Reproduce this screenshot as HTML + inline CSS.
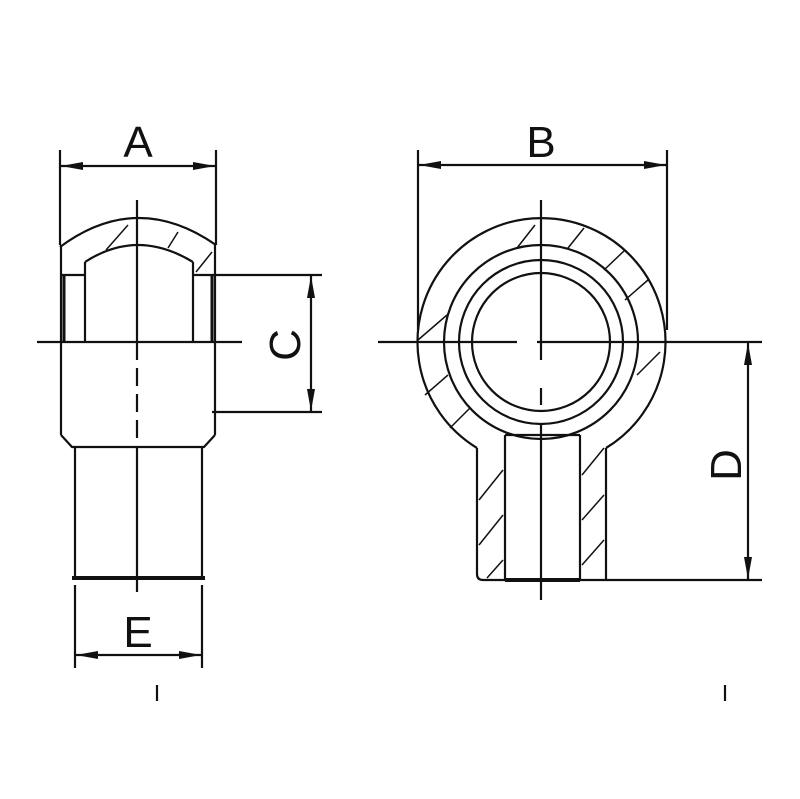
<!DOCTYPE html>
<html><head><style>body{margin:0;background:#fff}svg{display:block}</style></head><body>
<svg width="800" height="799" viewBox="0 0 800 799" xmlns="http://www.w3.org/2000/svg">
<defs>
<marker id="ar" markerWidth="22" markerHeight="10" refX="22" refY="5" orient="auto" markerUnits="userSpaceOnUse"><path d="M0,1 L22,5 L0,9 Z" fill="#111"/></marker>
</defs>
<g stroke="#111" stroke-width="2.2" fill="none">
<!-- Left view -->
<line x1="60" y1="150" x2="60" y2="245"/><line x1="216" y1="150" x2="216" y2="245"/>
<line x1="137" y1="166" x2="61" y2="166" marker-end="url(#ar)"/><line x1="137" y1="166" x2="215" y2="166" marker-end="url(#ar)"/>
<path d="M60,247 Q137,190 216,245"/>
<path d="M85,262 Q137,228 193,262"/>
<line x1="106" y1="250" x2="128" y2="225" stroke-width="1.5"/><line x1="168" y1="248" x2="178" y2="232" stroke-width="1.5"/><line x1="196" y1="272" x2="212" y2="252" stroke-width="1.5"/>
<line x1="61" y1="245" x2="61" y2="435"/><line x1="215" y1="245" x2="215" y2="435"/>
<line x1="64" y1="275" x2="64" y2="342" stroke-width="3"/><line x1="212" y1="275" x2="212" y2="342" stroke-width="3"/>
<line x1="85" y1="262" x2="85" y2="342"/><line x1="193" y1="262" x2="193" y2="342"/>
<line x1="62" y1="275" x2="85" y2="275"/><line x1="193" y1="275" x2="322" y2="275"/>
<line x1="37" y1="342" x2="242" y2="342"/>
<path d="M61,435 L72,447 L204,447 L215,435"/>
<line x1="75" y1="447" x2="75" y2="578"/><line x1="202" y1="447" x2="202" y2="578"/>
<line x1="72" y1="578" x2="205" y2="578" stroke-width="4"/>
<line x1="137" y1="200" x2="137" y2="342"/>
<line x1="137" y1="342" x2="137" y2="440" stroke-dasharray="18,8"/>
<line x1="137" y1="448" x2="137" y2="592"/>
<line x1="212" y1="412" x2="322" y2="412"/>
<line x1="311" y1="343" x2="311" y2="276" marker-end="url(#ar)"/><line x1="311" y1="343" x2="311" y2="411" marker-end="url(#ar)"/>
<line x1="75" y1="585" x2="75" y2="668"/><line x1="202" y1="585" x2="202" y2="668"/>
<line x1="138" y1="655" x2="76" y2="655" marker-end="url(#ar)"/><line x1="138" y1="655" x2="201" y2="655" marker-end="url(#ar)"/>
<line x1="157" y1="685" x2="157" y2="701"/><line x1="725" y1="685" x2="725" y2="701"/>
<!-- Right view -->
<line x1="418" y1="150" x2="418" y2="330"/><line x1="667" y1="150" x2="667" y2="330"/>
<line x1="541" y1="165" x2="419" y2="165" marker-end="url(#ar)"/><line x1="541" y1="165" x2="666" y2="165" marker-end="url(#ar)"/>
<path d="M477,448 A124,124 0 1 1 606,448"/>
<circle cx="541" cy="342" r="97"/><circle cx="541" cy="342" r="82"/><circle cx="541" cy="342" r="69"/>
<g stroke-width="1.5">
<line x1="517" y1="248" x2="535" y2="225"/><line x1="568" y1="248" x2="584" y2="228"/><line x1="604" y1="270" x2="625" y2="250"/><line x1="625" y1="300" x2="648" y2="280"/>
<line x1="418" y1="340" x2="447" y2="315"/><line x1="425" y1="395" x2="448" y2="375"/><line x1="450" y1="428" x2="470" y2="408"/>
<line x1="637" y1="375" x2="660" y2="352"/>
<line x1="479" y1="500" x2="503" y2="470"/><line x1="479" y1="545" x2="503" y2="515"/><line x1="487" y1="578" x2="503" y2="560"/>
<line x1="582" y1="475" x2="604" y2="448"/><line x1="582" y1="520" x2="604" y2="495"/><line x1="582" y1="565" x2="604" y2="540"/>
</g>
<path d="M477,448 L477,574 Q477,580 483,580"/>
<line x1="606" y1="448" x2="606" y2="580"/>
<line x1="505" y1="435" x2="505" y2="580"/><line x1="580" y1="435" x2="580" y2="580"/>
<line x1="505" y1="435" x2="580" y2="435"/>
<line x1="483" y1="580" x2="762" y2="580"/><line x1="505" y1="580" x2="580" y2="580" stroke-width="4"/>
<line x1="378" y1="342" x2="517" y2="342"/><line x1="537" y1="342" x2="762" y2="342"/>
<line x1="541" y1="200" x2="541" y2="360"/><line x1="541" y1="388" x2="541" y2="405"/><line x1="541" y1="425" x2="541" y2="600"/>
<line x1="748" y1="460" x2="748" y2="343" marker-end="url(#ar)"/><line x1="748" y1="460" x2="748" y2="579" marker-end="url(#ar)"/>
</g>
<g font-family="Liberation Sans, sans-serif" font-size="44" fill="#111" text-anchor="middle">
<text x="138" y="157">A</text>
<text x="541" y="157">B</text>
<text x="138" y="647">E</text>
<text transform="translate(300,345) rotate(-90)" y="0">C</text>
<text transform="translate(741,465) rotate(-90)" y="0">D</text>
</g>
</svg>
</body></html>
